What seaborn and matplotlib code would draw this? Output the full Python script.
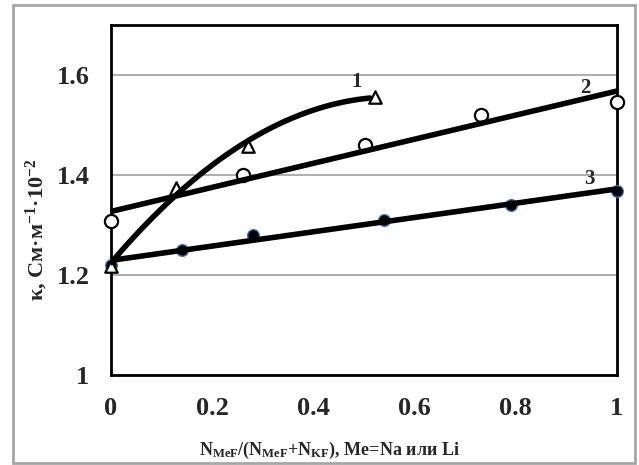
import numpy as np
import pandas as pd
import matplotlib
matplotlib.use("Agg")
import matplotlib.pyplot as plt
from matplotlib.patches import Rectangle
from matplotlib.ticker import MultipleLocator, FuncFormatter
import seaborn as sns

# ---- data ----
x1 = [0.0, 0.128, 0.271, 0.522]
y1 = [1.218, 1.375, 1.457, 1.557]
x2 = [0.0, 0.26, 0.502, 0.731, 1.0]
y2 = [1.309, 1.40, 1.46, 1.52, 1.547]
x3 = [0.0, 0.141, 0.281, 0.540, 0.79, 1.0]
y3 = [1.22, 1.25, 1.28, 1.31, 1.34, 1.369]
curve_labels = ["1", "2", "3"]
xticks = [0, 0.2, 0.4, 0.6, 0.8, 1.0]
yticks = [1.0, 1.2, 1.4, 1.6]

sns.set_style("white")
plt.rcParams["font.family"] = ["Liberation Serif", "DejaVu Serif"]
plt.rcParams["font.weight"] = "bold"
plt.rcParams["mathtext.default"] = "regular"

fig = plt.figure(figsize=(6.39, 4.65), dpi=100)
fig.patch.set_facecolor("white")
fig.add_artist(Rectangle((13 / 639, 2 / 465), 622 / 639, 458 / 465, transform=fig.transFigure,
                         fill=False, edgecolor="#a6a6a6", lw=2.0, zorder=0))
ax = fig.add_axes([111 / 639, 90 / 465, 506 / 639, 350 / 465])

# markers
d1 = pd.DataFrame({"x": x1, "y": y1})
d2 = pd.DataFrame({"x": x2, "y": y2})
d3 = pd.DataFrame({"x": x3, "y": y3})
sns.scatterplot(data=d3, x="x", y="y", ax=ax, marker="o", s=70, color="black",
                edgecolor="#3d6fb0", linewidth=1.0, zorder=3, clip_on=False)
sns.scatterplot(data=d2, x="x", y="y", ax=ax, marker="o", s=90, facecolor="white",
                edgecolor="black", linewidth=1.6, zorder=3, clip_on=False)
sns.scatterplot(data=d1, x="x", y="y", ax=ax, marker="^", s=80, facecolor="white",
                edgecolor="black", linewidth=1.6, zorder=3, clip_on=False)

# trend lines fitted to the data
c1 = np.polyfit(x1, y1, 2)
c2 = np.polyfit(x2, y2, 1)
c3 = np.polyfit(x3, y3, 1)
t1 = np.linspace(0, 0.512, 100)
t2 = np.linspace(0, 1, 2)
sns.lineplot(x=t1, y=np.polyval(c1, t1), ax=ax, color="black", lw=4.0, zorder=4)
sns.lineplot(x=t2, y=np.polyval(c2, t2), ax=ax, color="black", lw=4.0, zorder=4)
sns.lineplot(x=t2, y=np.polyval(c3, t2), ax=ax, color="black", lw=4.0, zorder=4)

ax.set_xlim(0, 1)
ax.set_ylim(1.0, 1.7)
ax.set_xticks(xticks)
ax.set_yticks(yticks)
ax.xaxis.set_minor_locator(MultipleLocator(0.05))
ax.yaxis.set_minor_locator(MultipleLocator(0.04))
fmt = FuncFormatter(lambda v, p: f"{v:g}")
ax.xaxis.set_major_formatter(fmt)
ax.yaxis.set_major_formatter(fmt)
ax.tick_params(which="major", direction="inout", length=11, width=1.5, labelsize=19, color="black")
ax.tick_params(axis="y", which="major", pad=10)
ax.tick_params(axis="x", which="major", pad=10)
ax.tick_params(which="minor", direction="in", length=5.5, width=1.2, color="black")
for lab in ax.get_xticklabels() + ax.get_yticklabels():
    lab.set_fontweight("bold")
ax.yaxis.grid(True, which="major", color="#a0a0a0", lw=1.2)
ax.set_axisbelow(True)
for s in ax.spines.values():
    s.set_visible(True)
    s.set_color("black")
    s.set_linewidth(2.0)
ax.set_xlabel("")
ax.set_ylabel("")

ax.text(0.486, 1.587, curve_labels[0], fontsize=15, fontweight="bold", ha="center", va="center")
ax.text(0.937, 1.574, curve_labels[1], fontsize=15, fontweight="bold", ha="center", va="center")
ax.text(0.945, 1.392, curve_labels[2], fontsize=15, fontweight="bold", ha="center", va="center")

fig.text(329 / 639, 1 - 450 / 465,
         r"N$_{MeF}$/(N$_{MeF}$+N$_{KF}$), Me=Na или Li",
         fontsize=13, fontweight="bold", ha="center", va="center")
fig.text(37 / 639, 1 - 230 / 465, r"κ, См·м$^{-1}$·10$^{-2}$",
         fontsize=16, fontweight="bold", ha="center", va="center", rotation=90)

fig.savefig("out.png", dpi=100)
